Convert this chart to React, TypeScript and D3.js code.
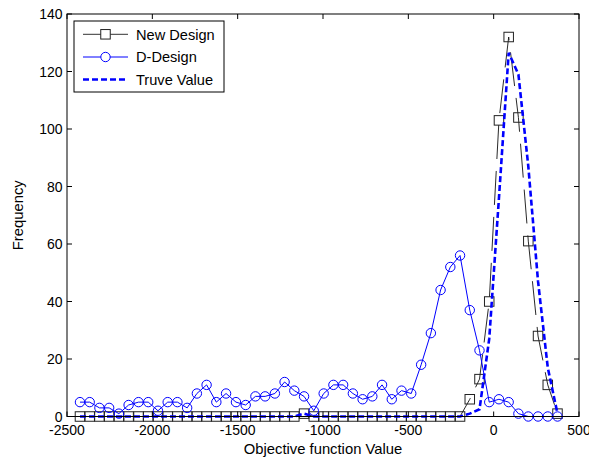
import React from "react";
import * as d3 from "d3";

// Bin centres (Objective function Value)
const binCenters = [
  -2424, -2367, -2310, -2253, -2196, -2139, -2081, -2024, -1967, -1910,
  -1853, -1796, -1739, -1682, -1625, -1568, -1510, -1453, -1396, -1339,
  -1282, -1225, -1168, -1111, -1054, -996, -939, -882, -825, -768,
  -711, -654, -597, -540, -483, -425, -368, -311, -254, -197,
  -140, -83, -26, 31, 88, 145, 203, 260, 317, 374,
];

const newDesign = [
  0, 0, 0, 0, 0, 0, 0, 0, 0, 0,
  0, 0, 0, 0, 0, 0, 0, 0, 0, 0,
  0, 0, 0, 1, 0, 0, 0, 0, 0, 0,
  0, 0, 0, 0, 0, 0, 0, 0, 0, 0,
  6, 13, 40, 103, 132, 104, 61, 28, 11, 1,
];

const dDesign = [
  5, 5, 3, 3, 1, 4, 5, 5, 2, 5,
  5, 3, 8, 11, 5, 8, 5, 4, 7, 7,
  8, 12, 9, 7, 2, 8, 11, 11, 8, 6,
  7, 11, 6, 9, 8, 18, 29, 44, 52, 56,
  37, 23, 5, 6, 5, 1, 0, 0, 0, 0,
];

const trueValue = [
  0, 0, 0, 0, 0, 0, 0, 0, 0, 0,
  0, 0, 0, 0, 0, 0, 0, 0, 0, 0,
  0, 0, 0, 1, 0, 0, 0, 0, 0, 0,
  0, 0, 0, 0, 0, 0, 0, 0, 0, 0,
  1, 2.5, 27, 76, 126.5, 119, 87, 47, 17, 1,
];

const xTicks = [-2500, -2000, -1500, -1000, -500, 0, 500];
const yTicks = [0, 20, 40, 60, 80, 100, 120, 140];

const seriesNames = ["New Design", "D-Design", "Truve Value"];

const W = 589;
const H = 459;
const M = { left: 67, right: 579, top: 14, bottom: 416.5 };
const FONT = "'Liberation Sans', Arial, Helvetica, sans-serif";
const BLUE = "#0000ff";

export default function App() {
  const x = d3.scaleLinear().domain([-2500, 500]).range([M.left, M.right]);
  const y = d3.scaleLinear().domain([0, 140]).range([M.bottom, M.top]);

  const line = d3
    .line<number>()
    .x((_, i) => x(binCenters[i]))
    .y((d) => y(d));

  const sq = 9.5;
  const r = 4.7;
  const tick = 5;

  const legX = 74;
  const legY = 21;
  const legW = 150;
  const legH = 71;
  const rowY = [34.3, 57, 79.5];
  const lx0 = 83;
  const lx1 = 128;
  const lxm = (lx0 + lx1) / 2;

  return (
    <svg
      width={W}
      height={H}
      style={{ position: "absolute", left: 0, top: 0, background: "#fff" }}
      fontFamily={FONT}
    >
      <rect x={0} y={0} width={W} height={H} fill="#fff" />

      {/* New Design */}
      <path
        d={line(newDesign) || ""}
        fill="none"
        stroke="#111"
        strokeWidth={0.9}
        strokeDasharray="34,12"
      />
      {newDesign.map((v, i) => (
        <rect
          key={"s" + i}
          x={x(binCenters[i]) - sq / 2}
          y={y(v) - sq / 2}
          width={sq}
          height={sq}
          fill="none"
          stroke="#222"
          strokeWidth={1}
        />
      ))}

      {/* D-Design */}
      <path d={line(dDesign) || ""} fill="none" stroke={BLUE} strokeWidth={1} />
      {dDesign.map((v, i) => (
        <circle
          key={"c" + i}
          cx={x(binCenters[i])}
          cy={y(v)}
          r={r}
          fill="none"
          stroke={BLUE}
          strokeWidth={1}
        />
      ))}

      {/* True value */}
      <path
        d={line(trueValue) || ""}
        fill="none"
        stroke={BLUE}
        strokeWidth={2.6}
        strokeDasharray="6,3"
      />

      {/* Axes box */}
      <rect
        x={M.left}
        y={M.top}
        width={M.right - M.left}
        height={M.bottom - M.top}
        fill="none"
        stroke="#000"
        strokeWidth={1}
      />

      {xTicks.map((t) => (
        <g key={"xt" + t}>
          <line x1={x(t)} x2={x(t)} y1={M.bottom} y2={M.bottom - tick} stroke="#000" />
          <line x1={x(t)} x2={x(t)} y1={M.top} y2={M.top + tick} stroke="#000" />
          <text x={x(t)} y={435} fontSize={14} textAnchor="middle" fill="#000">
            {t}
          </text>
        </g>
      ))}
      {yTicks.map((t) => (
        <g key={"yt" + t}>
          <line x1={M.left} x2={M.left + tick} y1={y(t)} y2={y(t)} stroke="#000" />
          <line x1={M.right} x2={M.right - tick} y1={y(t)} y2={y(t)} stroke="#000" />
          <text
            x={62.5}
            y={y(t) + 5}
            fontSize={14}
            textAnchor="end"
            fill="#000"
          >
            {t}
          </text>
        </g>
      ))}

      <text
        x={(M.left + M.right) / 2}
        y={453.5}
        fontSize={14.8}
        textAnchor="middle"
        fill="#000"
      >
        Objective function Value
      </text>
      <text
        transform={`translate(23,${(M.top + M.bottom) / 2}) rotate(-90)`}
        fontSize={14.8}
        textAnchor="middle"
        fill="#000"
      >
        Frequency
      </text>

      {/* Legend */}
      <rect x={legX} y={legY} width={legW} height={legH} fill="#fff" stroke="#000" strokeWidth={1} />
      <line x1={lx0} x2={lx1} y1={rowY[0]} y2={rowY[0]} stroke="#333" strokeWidth={1} />
      <rect x={lxm - sq / 2} y={rowY[0] - sq / 2} width={sq} height={sq} fill="#fff" stroke="#222" />
      <line x1={lx0} x2={lx1} y1={rowY[1]} y2={rowY[1]} stroke={BLUE} strokeWidth={1} />
      <circle cx={lxm} cy={rowY[1]} r={r} fill="#fff" stroke={BLUE} />
      <line
        x1={lx0}
        x2={lx1}
        y1={rowY[2]}
        y2={rowY[2]}
        stroke={BLUE}
        strokeWidth={2.6}
        strokeDasharray="6,3"
      />
      {seriesNames.map((n, i) => (
        <text key={n} x={136} y={rowY[i] + 5.2} fontSize={14.6} fill="#000">
          {n}
        </text>
      ))}
    </svg>
  );
}
